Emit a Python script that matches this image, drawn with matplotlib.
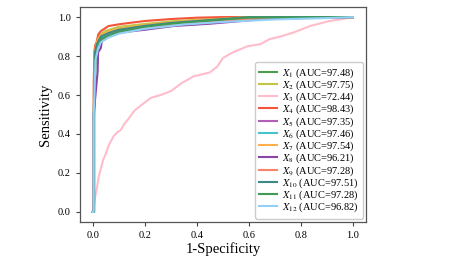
import numpy as np
import matplotlib
matplotlib.use("Agg")
import matplotlib.pyplot as plt

plt.rcParams['font.family'] = ['Liberation Serif', 'DejaVu Serif']
plt.rcParams['mathtext.fontset'] = 'stix'

# ROC curves (fpr, tpr)
fpr_x1 = [0, 0.004, 0.004, 0.008, 0.012, 0.02, 0.03, 0.05, 0.1, 0.2, 0.3, 0.45, 0.6, 1.0]
tpr_x1 = [0, 0, 0.56, 0.80, 0.86, 0.89, 0.905, 0.92, 0.94, 0.958, 0.972, 0.985, 0.997, 1.0]
fpr_x2 = [0, 0.004, 0.004, 0.008, 0.015, 0.025, 0.05, 0.1, 0.2, 0.3, 0.45, 0.55, 1.0]
tpr_x2 = [0, 0, 0.60, 0.84, 0.88, 0.91, 0.93, 0.95, 0.965, 0.978, 0.99, 1.0, 1.0]
fpr_x3 = [0, 0.004, 0.009, 0.015, 0.022, 0.03, 0.04, 0.05, 0.06, 0.08, 0.095, 0.107, 0.12,
          0.138, 0.16, 0.184, 0.222, 0.26, 0.3, 0.34, 0.387, 0.45, 0.479, 0.5, 0.54, 0.594,
          0.644, 0.68, 0.72, 0.77, 0.835, 0.91, 0.96, 1.0]
tpr_x3 = [0.0, 0.03, 0.08, 0.12, 0.18, 0.22, 0.27, 0.30, 0.34, 0.39, 0.41, 0.42, 0.45,
          0.48, 0.52, 0.546, 0.585, 0.60, 0.62, 0.66, 0.696, 0.716, 0.747, 0.79, 0.82, 0.85,
          0.861, 0.887, 0.90, 0.92, 0.954, 0.98, 0.99, 1.0]
fpr_x4 = [0, 0.003, 0.003, 0.006, 0.01, 0.015, 0.02, 0.03, 0.06, 0.1, 0.14, 0.2, 0.3, 0.4, 0.5, 1.0]
tpr_x4 = [0, 0, 0.66, 0.83, 0.86, 0.87, 0.91, 0.928, 0.954, 0.963, 0.97, 0.98, 0.99, 0.997, 1.0, 1.0]
fpr_x5 = [0, 0.004, 0.004, 0.01, 0.02, 0.03, 0.06, 0.1, 0.2, 0.3, 0.45, 0.6, 0.7, 1.0]
tpr_x5 = [0, 0, 0.55, 0.80, 0.86, 0.89, 0.91, 0.93, 0.95, 0.965, 0.98, 0.99, 1.0, 1.0]
fpr_x6 = [0, 0.003, 0.003, 0.008, 0.015, 0.03, 0.06, 0.1, 0.2, 0.35, 0.5, 0.65, 1.0]
tpr_x6 = [0, 0, 0.50, 0.78, 0.86, 0.895, 0.915, 0.93, 0.952, 0.972, 0.988, 1.0, 1.0]
fpr_x7 = [0, 0.004, 0.004, 0.008, 0.015, 0.025, 0.05, 0.1, 0.2, 0.3, 0.45, 0.6, 1.0]
tpr_x7 = [0, 0, 0.62, 0.83, 0.87, 0.90, 0.92, 0.94, 0.958, 0.972, 0.988, 1.0, 1.0]
fpr_x8 = [0, 0.003, 0.003, 0.018, 0.02, 0.03, 0.035, 0.06, 0.1, 0.2, 0.31, 0.45, 0.6, 0.66, 0.8, 1.0]
tpr_x8 = [0, 0, 0.50, 0.72, 0.82, 0.84, 0.88, 0.90, 0.92, 0.935, 0.954, 0.966, 0.983, 0.99, 0.995, 1.0]
fpr_x9 = [0, 0.004, 0.004, 0.01, 0.02, 0.035, 0.06, 0.1, 0.2, 0.3, 0.45, 0.6, 0.7, 1.0]
tpr_x9 = [0, 0, 0.60, 0.80, 0.85, 0.88, 0.905, 0.925, 0.948, 0.962, 0.978, 0.99, 1.0, 1.0]
fpr_x10 = [0, 0.004, 0.004, 0.008, 0.015, 0.03, 0.06, 0.1, 0.2, 0.3, 0.45, 0.6, 1.0]
tpr_x10 = [0, 0, 0.52, 0.82, 0.86, 0.90, 0.918, 0.935, 0.955, 0.97, 0.985, 1.0, 1.0]
fpr_x11 = [0, 0.005, 0.005, 0.01, 0.02, 0.03, 0.06, 0.1, 0.2, 0.3, 0.45, 0.6, 1.0]
tpr_x11 = [0, 0, 0.49, 0.79, 0.85, 0.885, 0.905, 0.925, 0.95, 0.966, 0.982, 0.998, 1.0]
fpr_x12 = [0, 0.003, 0.003, 0.01, 0.02, 0.03, 0.06, 0.1, 0.2, 0.35, 0.5, 0.7, 0.9, 1.0]
tpr_x12 = [0, 0, 0.50, 0.78, 0.84, 0.87, 0.895, 0.915, 0.94, 0.962, 0.975, 0.988, 0.995, 1.0]

fprs = [fpr_x1, fpr_x2, fpr_x3, fpr_x4, fpr_x5, fpr_x6, fpr_x7, fpr_x8, fpr_x9, fpr_x10, fpr_x11, fpr_x12]
tprs = [tpr_x1, tpr_x2, tpr_x3, tpr_x4, tpr_x5, tpr_x6, tpr_x7, tpr_x8, tpr_x9, tpr_x10, tpr_x11, tpr_x12]
aucs = [97.48, 97.75, 72.44, 98.43, 97.35, 97.46, 97.54, 96.21, 97.28, 97.51, 97.28, 96.82]
colors = ['#4f9e4f', '#c3c545', '#ffbccb', '#f4553a', '#b25fb8', '#45c4cc',
          '#ffb04a', '#8a45a8', '#fa8468', '#3a8a88', '#3f9a58', '#92d0f5']

fig = plt.figure(figsize=(4.62, 2.72), dpi=100)
ax = fig.add_axes([0.173, 0.185, 0.619, 0.788])

for i in range(len(aucs)):
    ax.plot(fprs[i], tprs[i], color=colors[i], lw=1.5,
            label=r'$X_{%d}$ (AUC=%.2f)' % (i + 1, aucs[i]))

ax.set_xticks(np.arange(0, 1.01, 0.2))
ax.set_yticks(np.arange(0, 1.01, 0.2))
ax.tick_params(labelsize=7.5, length=3, width=0.8, color='#444444')
for s in ax.spines.values():
    s.set_color('#555555')
    s.set_linewidth(0.9)
ax.set_xlabel('1-Specificity', fontsize=10.5, labelpad=2)
ax.set_ylabel('Sensitivity', fontsize=10.5, labelpad=4)

ax.legend(loc='lower right', fontsize=7.5, labelspacing=-0.12, handlelength=1.7,
          handletextpad=0.5, borderaxespad=0.3, borderpad=0.4, framealpha=1,
          edgecolor='#cccccc', fancybox=True)

fig.savefig('out.png', dpi=100)
